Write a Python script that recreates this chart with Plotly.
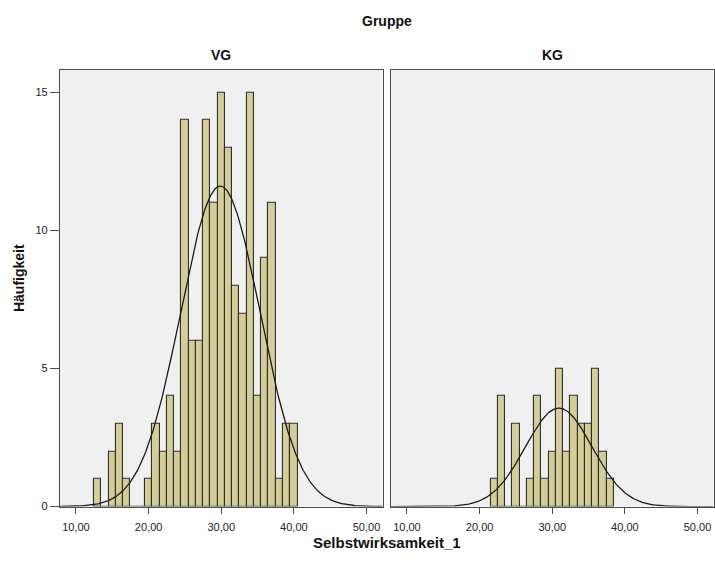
import numpy as np
import plotly.graph_objects as go

# Score values (bin centres, bin width 1) and frequencies per group
vg_scores = [13, 14, 15, 16, 17, 18, 19, 20, 21, 22, 23, 24, 25, 26, 27, 28, 29, 30,
             31, 32, 33, 34, 35, 36, 37, 38, 39, 40]
vg_counts = [1, 0, 2, 3, 1, 0, 0, 1, 3, 2, 4, 2, 14, 6, 6, 14, 11, 15,
             13, 8, 7, 15, 4, 9, 11, 1, 3, 3]

kg_scores = [22, 23, 24, 25, 26, 27, 28, 29, 30, 31, 32, 33, 34, 35, 36, 37, 38]
kg_counts = [1, 4, 0, 3, 0, 1, 4, 1, 2, 5, 2, 4, 3, 3, 5, 2, 1]

x_ticks = [10, 20, 30, 40, 50]
y_ticks = [0, 5, 10, 15]

BAR_FILL = "#d3ce97"
BAR_EDGE = "#2e2e2e"
PANEL_BG = "#f0f0f0"
FRAME = "#4a4a4a"
FONT = "Liberation Sans, Arial, sans-serif"

W, H = 715, 568

x_range = [7.8, 52.2]
y_range = [0, 15.82]


def normal_curve(scores, counts, binw=1.0):
    s = np.asarray(scores, float)
    c = np.asarray(counts, float)
    n = c.sum()
    mu = (s * c).sum() / n
    sd = np.sqrt(((s - mu) ** 2 * c).sum() / (n - 1))
    xs = np.linspace(x_range[0], x_range[1], 400)
    ys = n * binw / (sd * np.sqrt(2 * np.pi)) * np.exp(-0.5 * ((xs - mu) / sd) ** 2)
    return xs, ys


fig = go.Figure()

for scores, counts, xa, ya in [(vg_scores, vg_counts, "x", "y"),
                               (kg_scores, kg_counts, "x2", "y2")]:
    fig.add_trace(go.Bar(
        x=scores, y=counts, width=1.0,
        marker=dict(color=BAR_FILL, line=dict(color=BAR_EDGE, width=1.1)),
        xaxis=xa, yaxis=ya, showlegend=False,
    ))
    cx, cy = normal_curve(scores, counts)
    fig.add_trace(go.Scatter(
        x=cx, y=cy, mode="lines",
        line=dict(color="#1a1a1a", width=1.3),
        xaxis=xa, yaxis=ya, showlegend=False,
    ))

# panel geometry in pixels
left1, right1 = 60, 382.5
left2, right2 = 391, 713.5
top, bottom = 70.5, 512

xdom1 = [left1 / W, right1 / W]
xdom2 = [left2 / W, right2 / W]
ydom = [(H - bottom) / H, (H - top) / H]

xcommon = dict(
    range=x_range, tickvals=x_ticks, tickformat=".2f",
    ticks="outside", ticklen=6, tickcolor=FRAME, tickwidth=1,
    ticklabelstandoff=4,
    showline=True, linecolor=FRAME, linewidth=1.2, mirror=True,
    showgrid=False, zeroline=False,
    tickfont=dict(family=FONT, size=11, color="#222"),
)
ycommon = dict(
    range=y_range, showgrid=False, zeroline=False,
    showline=True, linecolor=FRAME, linewidth=1.2, mirror=True,
)

fig.update_layout(
    width=W, height=H, autosize=False,
    margin=dict(l=0, r=0, t=0, b=0),
    paper_bgcolor="white",
    plot_bgcolor=PANEL_BG,
    separators=",.",
    bargap=0,
    xaxis=dict(domain=xdom1, anchor="y", **xcommon),
    xaxis2=dict(domain=xdom2, anchor="y2", **xcommon),
    yaxis=dict(domain=ydom, anchor="x", tickvals=y_ticks, ticks="outside",
               ticklen=9, tickcolor=FRAME,
               tickfont=dict(family=FONT, size=11, color="#222"), **ycommon),
    yaxis2=dict(domain=ydom, anchor="x2", showticklabels=False, ticks="", **ycommon),
    font=dict(family=FONT),
)


def label(text, px, py, size=14, angle=0):
    fig.add_annotation(text=text, x=px / W, y=1 - py / H, xref="paper", yref="paper",
                       xanchor="center", yanchor="middle", showarrow=False,
                       textangle=angle,
                       font=dict(family=FONT, size=size, color="#111", weight="bold"))


label("Gruppe", (left1 + right2) / 2, 21)
label("VG", (left1 + right1) / 2, 56)
label("KG", (left2 + right2) / 2, 56)
label("Selbstwirksamkeit_1", (left1 + right2) / 2, 548, size=15)
label("Häufigkeit", 19, 281, angle=-90)

fig.write_html("out.html")
